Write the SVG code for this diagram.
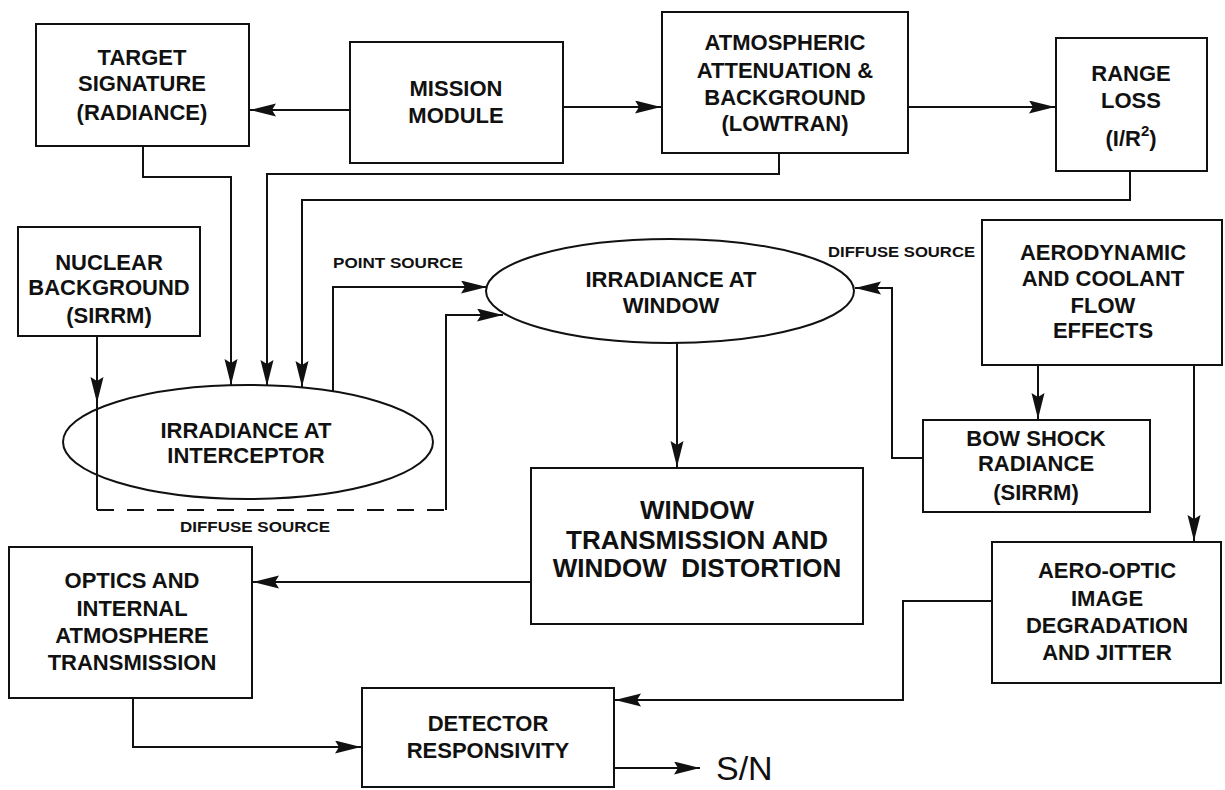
<svg xmlns="http://www.w3.org/2000/svg" width="1225" height="790" viewBox="0 0 1225 790">
<style>
  .box { fill: #fff; stroke: #111; stroke-width: 2; }
  .t { font-family: "Liberation Sans", Arial, sans-serif; font-weight: bold; font-size: 22px; fill: #111; text-anchor: middle; }
  .big { font-size: 26px; }
  .lbl { font-family: "Liberation Sans", Arial, sans-serif; font-weight: bold; font-size: 15px; fill: #111; }
  .sn { font-family: "Liberation Sans", Arial, sans-serif; font-size: 34px; fill: #111; }
  .c { fill: none; stroke: #111; stroke-width: 2; }
  .dash { stroke-dasharray: 17 13; }
</style>
<defs>
  <marker id="ah" markerUnits="userSpaceOnUse" markerWidth="28" markerHeight="14" refX="26" refY="6.5" orient="auto">
    <path d="M0,0 L26,6.5 L0,13 L4,6.5 z" fill="#111"/>
  </marker>
</defs>
<rect width="1225" height="790" fill="#fff"/>

<g id="connectors">
  <path class="c" d="M350,110 L250,110" marker-end="url(#ah)"/>
  <path class="c" d="M563,107 L661,107" marker-end="url(#ah)"/>
  <path class="c" d="M908,107 L1055,107" marker-end="url(#ah)"/>
  <path class="c" d="M143,146 L143,177 L231,177 L231,385" marker-end="url(#ah)"/>
  <path class="c" d="M779,153 L779,174 L267,174 L267,386" marker-end="url(#ah)"/>
  <path class="c" d="M1130,171 L1130,200 L302,200 L302,387" marker-end="url(#ah)"/>
  <path class="c" d="M97,336 L97,403" marker-end="url(#ah)"/>
  <path class="c" d="M97,403 L97,510"/>
  <path class="c dash" d="M97,510 L446,510"/>
  <path class="c" d="M446,510 L446,315 L503,315" marker-end="url(#ah)"/>
  <path class="c" d="M333,391 L333,287 L487,287" marker-end="url(#ah)"/>
  <path class="c" d="M923,458 L892,458 L892,288 L855,288" marker-end="url(#ah)"/>
  <path class="c" d="M677,343 L677,467" marker-end="url(#ah)"/>
  <path class="c" d="M1038,365 L1038,419" marker-end="url(#ah)"/>
  <path class="c" d="M1194,365 L1194,541" marker-end="url(#ah)"/>
  <path class="c" d="M531,582 L253,582" marker-end="url(#ah)"/>
  <path class="c" d="M133,698 L133,747 L361,747" marker-end="url(#ah)"/>
  <path class="c" d="M992,601 L903,601 L903,700 L615,700" marker-end="url(#ah)"/>
  <path class="c" d="M614,768 L700,768" marker-end="url(#ah)"/>
  <text class="lbl" x="333" y="268" textLength="130" lengthAdjust="spacingAndGlyphs">POINT SOURCE</text>
  <text class="lbl" x="828" y="257" textLength="147" lengthAdjust="spacingAndGlyphs">DIFFUSE SOURCE</text>
  <text class="lbl" x="180" y="532" textLength="150" lengthAdjust="spacingAndGlyphs">DIFFUSE SOURCE</text>
  <text class="sn" x="716" y="780">S/N</text>
</g>

<g id="target">
  <rect class="box" x="36" y="24" width="213" height="122"/>
  <text class="t" x="142" y="65">TARGET</text>
  <text class="t" x="142" y="91">SIGNATURE</text>
  <text class="t" x="142" y="120">(RADIANCE)</text>
</g>
<g id="mission">
  <rect class="box" x="350" y="42" width="213" height="121"/>
  <text class="t" x="456" y="96">MISSION</text>
  <text class="t" x="456" y="123">MODULE</text>
</g>
<g id="atmos">
  <rect class="box" x="662" y="12" width="246" height="141"/>
  <text class="t" x="785" y="50">ATMOSPHERIC</text>
  <text class="t" x="785" y="78">ATTENUATION &amp;</text>
  <text class="t" x="785" y="105">BACKGROUND</text>
  <text class="t" x="785" y="131">(LOWTRAN)</text>
</g>
<g id="range">
  <rect class="box" x="1056" y="38" width="151" height="133"/>
  <text class="t" x="1131" y="81">RANGE</text>
  <text class="t" x="1131" y="108">LOSS</text>
  <text class="t" x="1131" y="146">(I/R<tspan font-size="15" dy="-10">2</tspan><tspan dy="10">)</tspan></text>
</g>
<g id="nuclear">
  <rect class="box" x="18" y="227" width="182" height="109"/>
  <text class="t" x="109" y="270">NUCLEAR</text>
  <text class="t" x="109" y="295">BACKGROUND</text>
  <text class="t" x="109" y="323">(SIRRM)</text>
</g>
<g id="interceptor">
  <ellipse class="box" cx="248" cy="442" rx="185" ry="57" fill="none" style="fill:none"/>
  <text class="t" x="246" y="438">IRRADIANCE AT</text>
  <text class="t" x="246" y="463">INTERCEPTOR</text>
</g>
<g id="window-irr">
  <ellipse class="box" cx="670" cy="291" rx="184" ry="52"/>
  <text class="t" x="671" y="287">IRRADIANCE AT</text>
  <text class="t" x="671" y="313">WINDOW</text>
</g>
<g id="aerodynamic">
  <rect class="box" x="982" y="220" width="240" height="145"/>
  <text class="t" x="1103" y="260">AERODYNAMIC</text>
  <text class="t" x="1103" y="286">AND COOLANT</text>
  <text class="t" x="1103" y="313">FLOW</text>
  <text class="t" x="1103" y="338">EFFECTS</text>
</g>
<g id="bowshock">
  <rect class="box" x="923" y="420" width="227" height="92"/>
  <text class="t" x="1036" y="446">BOW SHOCK</text>
  <text class="t" x="1036" y="471">RADIANCE</text>
  <text class="t" x="1036" y="500">(SIRRM)</text>
</g>
<g id="windowtrans">
  <rect class="box" x="531" y="468" width="332" height="156"/>
  <text class="t big" x="697" y="519">WINDOW</text>
  <text class="t big" x="697" y="549">TRANSMISSION AND</text>
  <text class="t big" x="697" y="577" xml:space="preserve">WINDOW  DISTORTION</text>
</g>
<g id="optics">
  <rect class="box" x="9" y="547" width="243" height="151"/>
  <text class="t" x="132" y="588">OPTICS AND</text>
  <text class="t" x="132" y="616">INTERNAL</text>
  <text class="t" x="132" y="643">ATMOSPHERE</text>
  <text class="t" x="132" y="670">TRANSMISSION</text>
</g>
<g id="aerooptic">
  <rect class="box" x="992" y="542" width="229" height="141"/>
  <text class="t" x="1107" y="578">AERO-OPTIC</text>
  <text class="t" x="1107" y="606">IMAGE</text>
  <text class="t" x="1107" y="633">DEGRADATION</text>
  <text class="t" x="1107" y="660">AND JITTER</text>
</g>
<g id="detector">
  <rect class="box" x="362" y="688" width="252" height="99"/>
  <text class="t" x="488" y="731">DETECTOR</text>
  <text class="t" x="488" y="758">RESPONSIVITY</text>
</g>
</svg>
